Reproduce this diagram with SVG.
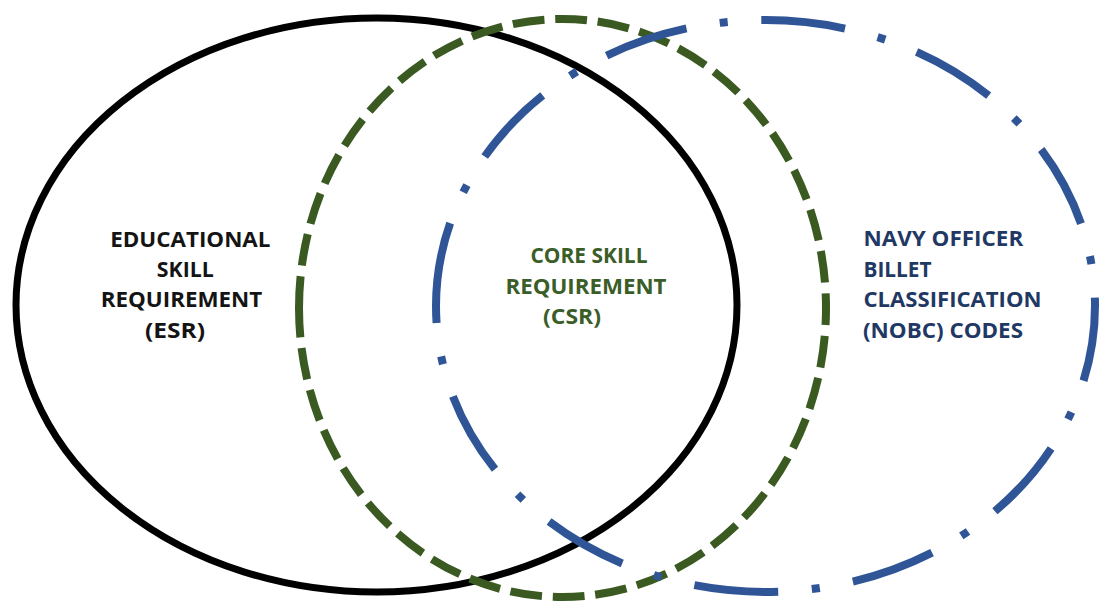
<svg xmlns="http://www.w3.org/2000/svg" width="1099" height="604" viewBox="0 0 1099 604">
  <style>
    .lbl { font-family: "Open Sans", "Liberation Sans", sans-serif; font-weight: 700; font-size: 22px; }
    .esr { fill: #141414; }
    .csr { fill: #3b5d28; }
    .nobc { fill: #1f3864; }
    .ring { fill: none; stroke-linecap: butt; }
  </style>
  <rect width="1099" height="604" fill="#ffffff"/>
  <g id="connectors"/>
  <g id="esr">
    <ellipse class="ring" cx="376.5" cy="305" rx="360.5" ry="287" stroke="#000000" stroke-width="7"/>
    <text class="lbl esr" x="110.2" y="246.5" textLength="160.3" lengthAdjust="spacingAndGlyphs">EDUCATIONAL</text>
    <text class="lbl esr" x="156.8" y="277" textLength="57" lengthAdjust="spacingAndGlyphs">SKILL</text>
    <text class="lbl esr" x="100.8" y="307" textLength="161.4" lengthAdjust="spacingAndGlyphs">REQUIREMENT</text>
    <text class="lbl esr" x="145" y="337.5" textLength="60" lengthAdjust="spacingAndGlyphs">(ESR)</text>
  </g>
  <g id="csr">
    <path class="ring" d="M 299 308 A 263.5 289 0 0 1 826 308 A 263.5 289 0 0 1 299 308" pathLength="1770" stroke="#3a5a22" stroke-width="8" stroke-dasharray="32.5 11"/>
    <text class="lbl csr" x="530.5" y="263" textLength="117" lengthAdjust="spacingAndGlyphs">CORE SKILL</text>
    <text class="lbl csr" x="505.5" y="293.5" textLength="161" lengthAdjust="spacingAndGlyphs">REQUIREMENT</text>
    <text class="lbl csr" x="543" y="324" textLength="58" lengthAdjust="spacingAndGlyphs">(CSR)</text>
  </g>
  <g id="nobc">
    <path class="ring" d="M 436 306 A 329.5 286 0 0 1 1095 306 A 329.5 286 0 0 1 436 306" pathLength="1925" stroke="#2f5597" stroke-width="8" stroke-dasharray="84 33.5 8 33.5"/>
    <text class="lbl nobc" x="863.5" y="246" textLength="159.7" lengthAdjust="spacingAndGlyphs">NAVY OFFICER</text>
    <text class="lbl nobc" x="863.5" y="276.5" textLength="68" lengthAdjust="spacingAndGlyphs">BILLET</text>
    <text class="lbl nobc" x="863.5" y="307" textLength="178" lengthAdjust="spacingAndGlyphs">CLASSIFICATION</text>
    <text class="lbl nobc" x="863" y="337.5" textLength="160" lengthAdjust="spacingAndGlyphs">(NOBC) CODES</text>
  </g>
</svg>
